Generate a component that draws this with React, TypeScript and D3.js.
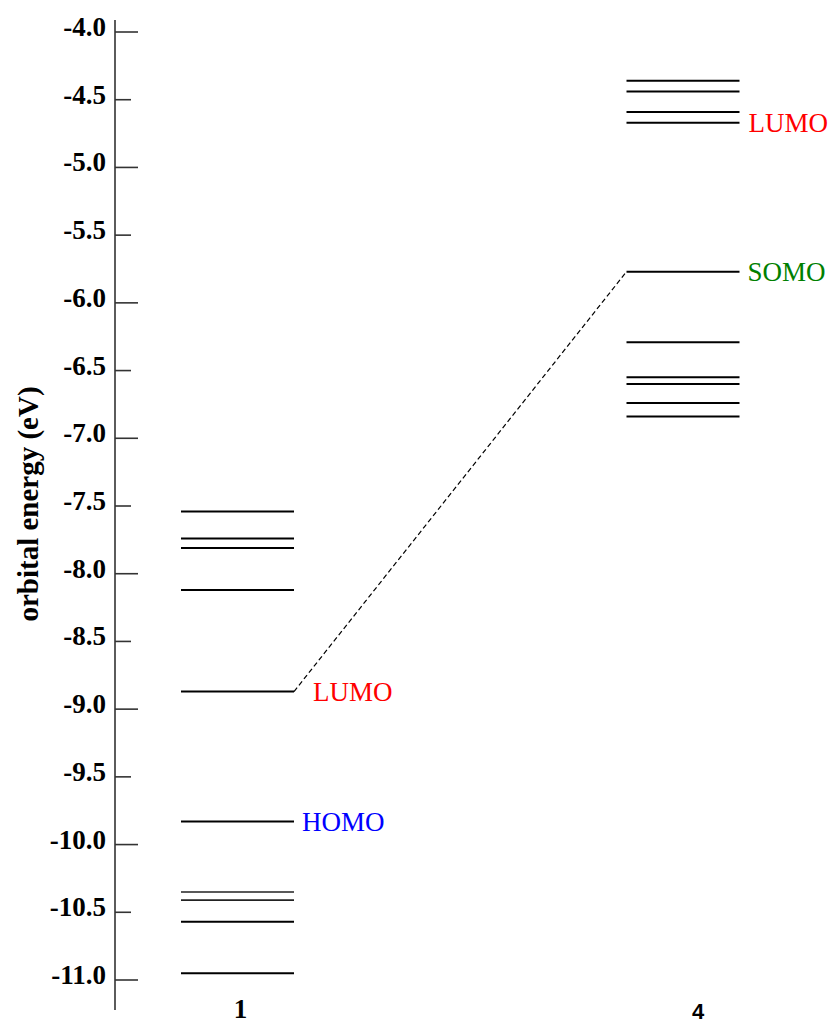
import React from "react";
import * as d3 from "d3";

const molecules = ["1", "4"];
const levels1 = [-7.54, -7.74, -7.81, -8.12, -8.87, -9.83, -10.35, -10.41, -10.57, -10.95];
const levels4 = [-4.36, -4.44, -4.59, -4.67, -5.77, -6.29, -6.55, -6.6, -6.74, -6.84];
const thinLevels1 = [-10.35, -10.41];
const yTicks = [-4.0, -4.5, -5.0, -5.5, -6.0, -6.5, -7.0, -7.5, -8.0, -8.5, -9.0, -9.5, -10.0, -10.5, -11.0];
const annotations = [
  { mol: "1", energy: -8.87, text: "LUMO", color: "#ff0000", dx: 19 },
  { mol: "1", energy: -9.83, text: "HOMO", color: "#0000ff", dx: 8 },
  { mol: "4", energy: -4.67, text: "LUMO", color: "#ff0000", dx: 9 },
  { mol: "4", energy: -5.77, text: "SOMO", color: "#008000", dx: 8 },
];
const connector = { from: -8.87, to: -5.77 };

const W = 834;
const H = 1024;

export default function App() {
  const y = d3.scaleLinear().domain([-4, -11]).range([32, 980]);
  const x = d3.scalePoint<string>().domain(molecules).range([237.5, 683]);
  const half = 56.5;
  const axisX = 115;
  const serif = "'Liberation Serif', 'Times New Roman', serif";
  const fmt = (v: number) => d3.format(".1f")(v).replace("\u2212", "-");
  const levelsBy: Record<string, number[]> = { "1": levels1, "4": levels4 };
  const catLabel: Record<string, { dx: number; font: string; size: number; by: number }> = {
    "1": { dx: 3, font: serif, size: 27, by: 1018 },
    "4": { dx: 15, font: "'Liberation Sans', Arial, sans-serif", size: 22, by: 1019 },
  };

  return (
    <svg width={W} height={H} style={{ position: "absolute", left: 0, top: 0, display: "block", background: "#fff" }}>
      {/* axis */}
      <line x1={axisX} x2={axisX} y1={20} y2={1010} stroke="#333" strokeWidth={1.6} />
      {yTicks.map((t) => {
        const major = Math.abs(t - Math.round(t)) < 1e-6;
        return (
          <g key={t}>
            <line x1={axisX} x2={axisX + (major ? 23 : 16)} y1={y(t)} y2={y(t)} stroke="#333" strokeWidth={1.6} />
            <text x={106} y={y(t) + 4} textAnchor="end" fontFamily={serif} fontWeight="bold" fontSize={27} fill="#000">
              {fmt(t)}
            </text>
          </g>
        );
      })}
      <text
        transform={`translate(38,504) rotate(-90)`}
        textAnchor="middle"
        fontFamily={serif}
        fontWeight="bold"
        fontSize={29}
        fill="#000"
      >
        orbital energy (eV)
      </text>

      {/* connector */}
      <line
        x1={(x("1") as number) + half}
        y1={y(connector.from)}
        x2={(x("4") as number) - half}
        y2={y(connector.to)}
        stroke="#000"
        strokeWidth={1.2}
        strokeDasharray="5,3"
      />

      {/* levels */}
      {molecules.map((m) =>
        levelsBy[m].map((e, i) => {
          const thin = m === "1" && thinLevels1.includes(e);
          return (
            <line
              key={m + "-" + i}
              x1={(x(m) as number) - half}
              x2={(x(m) as number) + half}
              y1={y(e)}
              y2={y(e)}
              stroke={thin ? "#222" : "#000"}
              strokeWidth={thin ? 1.6 : 2}
            />
          );
        })
      )}

      {/* annotations */}
      {annotations.map((a, i) => (
        <text
          key={i}
          x={(x(a.mol) as number) + half + a.dx}
          y={y(a.energy) + 9}
          fontFamily={serif}
          fontSize={27}
          fill={a.color}
        >
          {a.text}
        </text>
      ))}

      {/* category labels */}
      {molecules.map((m) => (
        <text
          key={m}
          x={(x(m) as number) + catLabel[m].dx}
          y={catLabel[m].by}
          textAnchor="middle"
          fontFamily={catLabel[m].font}
          fontWeight="bold"
          fontSize={catLabel[m].size}
          fill="#000"
        >
          {m}
        </text>
      ))}
    </svg>
  );
}
